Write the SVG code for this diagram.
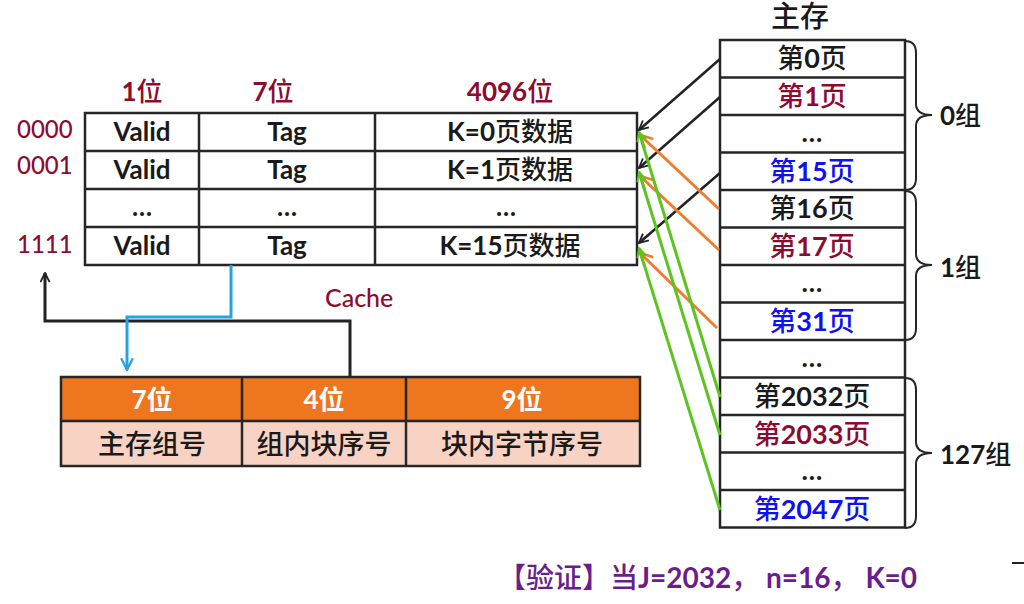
<svg xmlns="http://www.w3.org/2000/svg" width="1024" height="604" viewBox="0 0 1024 604">
<style>
text { font-family: "Lato", "Noto Sans CJK SC", sans-serif; fill: #1a1a1a; font-weight: 500; }
.b { font-weight: 700; }
.c { text-anchor: middle; }
.red { fill: #8C0B2E; }
.blue { fill: #1010F0; }
.wh { fill: #ffffff; }
.pu { fill: #6A1E8E; }
.grid { fill: none; stroke: #262626; stroke-width: 2.5; }
.brace { fill: none; stroke: #262626; stroke-width: 2; }
.cell { font-size: 26px; }
.mm { font-size: 27px; }
</style>
<defs>
<marker id="ak" viewBox="0 0 12 12" refX="11" refY="6" markerWidth="11" markerHeight="11" markerUnits="userSpaceOnUse" orient="auto"><path d="M1,1 L11,6 L1,11" fill="none" stroke="#222" stroke-width="2"/></marker>
<marker id="ao" viewBox="0 0 12 12" refX="11" refY="6" markerWidth="15" markerHeight="15" markerUnits="userSpaceOnUse" orient="auto"><path d="M1,1 L11,6 L1,11" fill="none" stroke="#EE7D2F" stroke-width="2"/></marker>
<marker id="ag" viewBox="0 0 12 12" refX="11" refY="6" markerWidth="11" markerHeight="11" markerUnits="userSpaceOnUse" orient="auto"><path d="M1,1 L11,6 L1,11" fill="none" stroke="#5CC41E" stroke-width="2"/></marker>
<marker id="ab" viewBox="0 0 12 12" refX="11" refY="6" markerWidth="14" markerHeight="14" markerUnits="userSpaceOnUse" orient="auto"><path d="M1,1 L11,6 L1,11" fill="none" stroke="#27A2E2" stroke-width="2"/></marker>
</defs>

<g id="cache-table">
  <text class="red c" x="142" y="101" font-size="26"><tspan class="b">1</tspan>位</text>
  <text class="red c" x="273" y="101" font-size="26"><tspan class="b">7</tspan>位</text>
  <text class="red c" x="510" y="101" font-size="26"><tspan class="b">4096</tspan>位</text>
  <text class="red" x="17" y="138" font-size="24" font-weight="400">0000</text>
  <text class="red" x="17" y="174" font-size="24" font-weight="400">0001</text>
  <text class="red" x="17" y="253" font-size="24" font-weight="400">1111</text>
  <rect class="grid" x="85" y="113" width="552" height="152"/>
  <path class="grid" d="M85,151 H637 M85,189 H637 M85,227 H637 M199,113 V265 M375,113 V265"/>
  <text class="cell b c" x="142" y="141">Valid</text>
  <text class="cell b c" x="287" y="141">Tag</text>
  <text class="cell c" x="510" y="141"><tspan class="b">K=0</tspan>页数据</text>
  <text class="cell b c" x="142" y="179">Valid</text>
  <text class="cell b c" x="287" y="179">Tag</text>
  <text class="cell c" x="510" y="179"><tspan class="b">K=1</tspan>页数据</text>
  <text class="cell b c" x="142" y="216">…</text>
  <text class="cell b c" x="287" y="216">…</text>
  <text class="cell b c" x="506" y="216">…</text>
  <text class="cell b c" x="142" y="255">Valid</text>
  <text class="cell b c" x="287" y="255">Tag</text>
  <text class="cell c" x="510" y="255"><tspan class="b">K=15</tspan>页数据</text>
  <text class="red" x="325" y="307" font-size="25" font-weight="400">Cache</text>
</g>

<g id="address-format">
  <rect x="61" y="377" width="579" height="44" fill="#EE761E"/>
  <rect x="61" y="421" width="579" height="45" fill="#F8D3C4"/>
  <rect class="grid" x="61" y="377" width="579" height="89" stroke-width="2"/>
  <path class="grid" stroke-width="2" d="M61,421 H640 M242,377 V466 M406,377 V466"/>
  <text class="wh b c" x="152" y="409" font-size="26">7位</text>
  <text class="wh b c" x="324" y="409" font-size="26">4位</text>
  <text class="wh b c" x="522" y="409" font-size="26">9位</text>
  <text class="c" x="152" y="454" font-size="27">主存组号</text>
  <text class="c" x="324" y="454" font-size="27">组内块序号</text>
  <text class="c" x="522" y="454" font-size="27">块内字节序号</text>
</g>

<g id="main-memory">
  <text class="c" x="800" y="27" font-size="29">主存</text>
  <rect class="grid" x="720" y="40" width="185" height="487.5"/>
  <path class="grid" d="M720,77.5 H905 M720,115 H905 M720,152.5 H905 M720,190 H905 M720,227.5 H905 M720,265 H905 M720,302.5 H905 M720,340 H905 M720,377.5 H905 M720,415 H905 M720,452.5 H905 M720,490 H905"/>
  <text class="mm c" x="812" y="68">第<tspan class="b">0</tspan>页</text>
  <text class="mm c red" x="812" y="106">第<tspan class="b">1</tspan>页</text>
  <text class="mm c b" x="812" y="142">…</text>
  <text class="mm c blue" x="812" y="181">第<tspan class="b">15</tspan>页</text>
  <text class="mm c" x="812" y="218">第<tspan class="b">16</tspan>页</text>
  <text class="mm c red" x="812" y="256">第<tspan class="b">17</tspan>页</text>
  <text class="mm c b" x="812" y="292">…</text>
  <text class="mm c blue" x="812" y="331">第<tspan class="b">31</tspan>页</text>
  <text class="mm c b" x="812" y="367">…</text>
  <text class="mm c" x="812" y="406">第<tspan class="b">2032</tspan>页</text>
  <text class="mm c red" x="812" y="444">第<tspan class="b">2033</tspan>页</text>
  <text class="mm c b" x="812" y="480">…</text>
  <text class="mm c blue" x="812" y="519">第<tspan class="b">2047</tspan>页</text>
</g>

<g id="group-0">
  <path class="brace" d="M905,41 Q916,41 916,53 L916,104 Q916,115 932,115 Q916,115 916,126 L916,178 Q916,190 905,190"/>
  <text x="940" y="125" font-size="26"><tspan class="b">0</tspan>组</text>
</g>
<g id="group-1">
  <path class="brace" d="M905,191 Q916,191 916,203 L916,254 Q916,265 932,265 Q916,265 916,276 L916,328 Q916,340 905,340"/>
  <text x="940" y="277" font-size="26"><tspan class="b">1</tspan>组</text>
</g>
<g id="group-127">
  <path class="brace" d="M905,378 Q916,378 916,390 L916,442 Q916,453 932,453 Q916,453 916,464 L916,516 Q916,528 905,528"/>
  <text x="940" y="464" font-size="26"><tspan class="b">127</tspan>组</text>
</g>

<g id="connectors" fill="none">
  <path d="M350,377 V321 H45 V273" stroke="#222" stroke-width="3" marker-end="url(#ak)"/>
  <path d="M231,265 V317 H127 V370" stroke="#27A2E2" stroke-width="3" marker-end="url(#ab)"/>
  <line x1="720" y1="59" x2="639" y2="130" stroke="#222" stroke-width="2.5" marker-end="url(#ak)"/>
  <line x1="720" y1="97" x2="639" y2="168" stroke="#222" stroke-width="2.5" marker-end="url(#ak)"/>
  <line x1="720" y1="173" x2="639" y2="243" stroke="#222" stroke-width="2.5" marker-end="url(#ak)"/>
  <line x1="719" y1="209" x2="640" y2="135" stroke="#EE7D2F" stroke-width="3" marker-end="url(#ao)"/>
  <line x1="719" y1="250" x2="640" y2="176" stroke="#EE7D2F" stroke-width="3" marker-end="url(#ao)"/>
  <line x1="717" y1="328" x2="640" y2="253" stroke="#EE7D2F" stroke-width="3" marker-end="url(#ao)"/>
  <line x1="720" y1="397" x2="639" y2="132" stroke="#5CC41E" stroke-width="3" marker-end="url(#ag)"/>
  <line x1="720" y1="435" x2="639" y2="172" stroke="#5CC41E" stroke-width="3" marker-end="url(#ag)"/>
  <line x1="720" y1="510" x2="639" y2="248" stroke="#5CC41E" stroke-width="3" marker-end="url(#ag)"/>
</g>

<text class="pu" x="498" y="588" font-size="28">【验证】当<tspan class="b pu">J=2032</tspan>，<tspan class="b pu"> n=16</tspan>，<tspan class="b pu"> K=0</tspan></text>
<line x1="1012" y1="563" x2="1024" y2="563" stroke="#222" stroke-width="2"/>
</svg>
